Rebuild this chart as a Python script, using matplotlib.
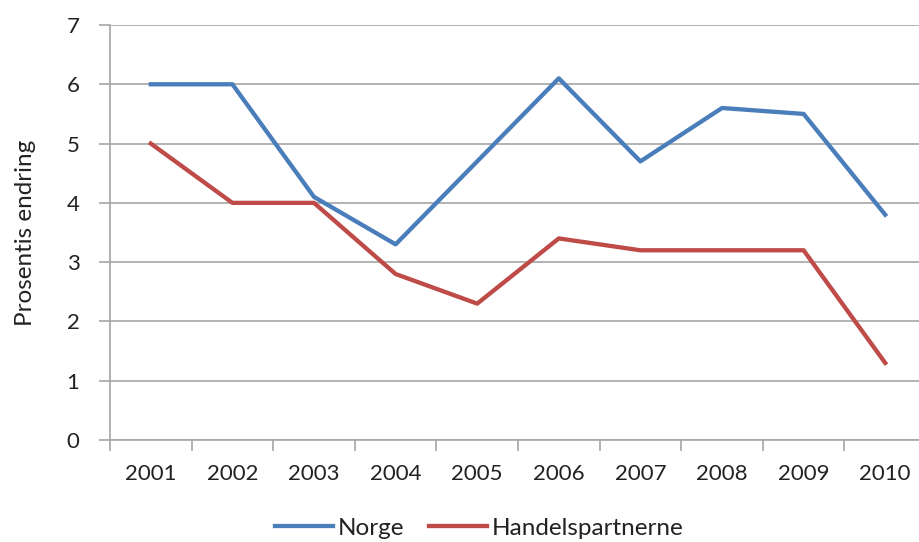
import matplotlib.pyplot as plt
import numpy as np

years = ['2001', '2002', '2003', '2004', '2005', '2006', '2007', '2008', '2009', '2010']
norge = [6.0, 6.0, 4.1, 3.3, 4.7, 6.1, 4.7, 5.6, 5.5, 3.8]
handel = [5.0, 4.0, 4.0, 2.8, 2.3, 3.4, 3.2, 3.2, 3.2, 1.3]

plt.rcParams['font.family'] = ['Lato', 'DejaVu Sans']
grid_col = '#A6A6A6'
txt_col = '#222222'

fig = plt.figure(figsize=(9.19, 5.42), dpi=100)
# axes spans x 110..926 px, y 25..440 px (right edge runs past the image)
ax = fig.add_axes([110 / 919, 1 - 440 / 542, 816 / 919, 415 / 542])

x = np.arange(len(years))
ax.plot(x, norge, color='#4A7EBB', lw=3.1, label='Norge')
ax.plot(x, handel, color='#BE4B48', lw=3.1, label='Handelspartnerne')

ax.set_xlim(-0.5, len(years) - 0.5)
ax.set_ylim(0, 7)
ax.set_yticks(range(0, 8))
ax.set_xticks(x)
ax.set_xticklabels(years)
ax.set_xticks(np.arange(-0.5, len(years)), minor=True)

ax.grid(axis='y', color=grid_col, lw=1.2)
ax.set_axisbelow(True)
for s in ['top', 'right']:
    ax.spines[s].set_visible(False)
for s in ['left', 'bottom']:
    ax.spines[s].set_color(grid_col)
    ax.spines[s].set_linewidth(1.2)

ax.tick_params(axis='y', length=8, color=grid_col, width=1.2, labelsize=16, pad=14, labelcolor=txt_col)
ax.tick_params(axis='x', which='major', length=0, labelsize=16, pad=17, labelcolor=txt_col)
ax.tick_params(axis='x', which='minor', length=8, color=grid_col, width=1.2)

ax.set_ylabel('Prosentis endring', fontsize=17.5, color=txt_col)
ax.yaxis.set_label_coords(-74 / 816, 0.5)

fig.legend(loc='center', bbox_to_anchor=(479 / 919, 1 - 528 / 542), ncol=2, frameon=False,
           fontsize=17.5, handlelength=2.4, handletextpad=0.2, columnspacing=1.0, labelcolor=txt_col)

fig.savefig('out.png', dpi=100)
